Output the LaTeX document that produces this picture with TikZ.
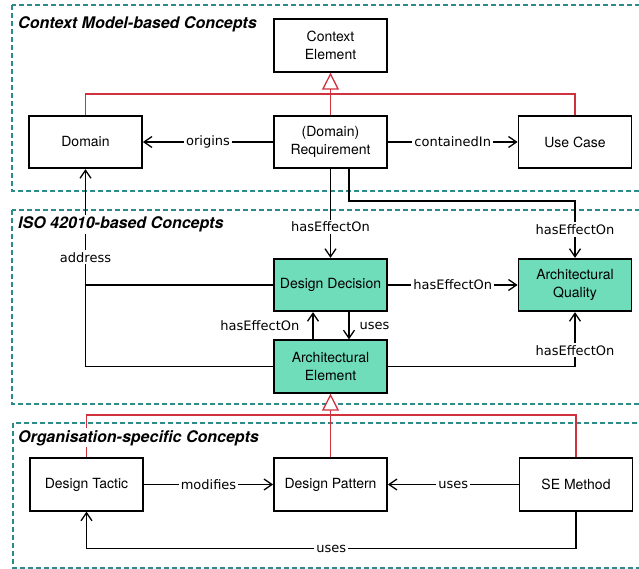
\documentclass[tikz,border=0pt]{standalone}
\usepackage{fontspec}
\setmainfont{TeX Gyre Heros}
\newfontfamily\lblfont{DejaVu Sans}
\usetikzlibrary{arrows.meta}

\definecolor{areateal}{HTML}{2E8B8B}
\definecolor{conceptgreen}{HTML}{6FDCBA}
\definecolor{genred}{HTML}{D0313D}

\tikzset{
  concept/.style={draw, line width=1.8pt, minimum width=113pt, minimum height=52.5pt,
    align=center, inner sep=2pt, font=\fontsize{14}{17.5}\selectfont},
  isoconcept/.style={concept, fill=conceptgreen},
  lbl/.style={fill=white, inner sep=2pt, font=\lblfont\fontsize{13}{15}\selectfont},
  assoc/.style={line width=1.3pt, -{Straight Barb[length=8pt,width=11pt]}},
  gen/.style={genred, line width=1.3pt},
  gentip/.style={gen, -{Triangle[fill=white, length=17pt, width=17pt]}},
  area/.style={areateal, line width=1.3pt, dash pattern=on 5pt off 3pt},
  areatitle/.style={anchor=base west, fill=white, inner sep=2pt,
    font=\fontsize{16}{19}\bfseries\itshape\selectfont}
}

\begin{document}
\begin{tikzpicture}[x=1pt,y=-1pt]
        \useasboundingbox (0,0) rectangle (639,569);
        \clip (0,0) rectangle (639,569);

        % Areas
        \draw[area] (12,5) rectangle (660,191);
        \draw[area] (12,210) rectangle (660,404);
        \draw[area] (13,423) rectangle (660,568);

        % Context model
        \node[concept] (ce) at (330.5,45.5) {Context\\Element};
        \node[concept] (dom) at (85.5,142) {Domain};
        \node[concept] (req) at (330.5,142) {(Domain)\\Requirement};
        \node[concept] (uc) at (575,142) {Use Case};

        % ISO 42010
        \node[isoconcept] (dd) at (330.5,285) {Design Decision};
        \node[isoconcept] (aq) at (575,285) {Architectural\\Quality};
        \node[isoconcept] (ae) at (330.5,366.5) {Architectural\\Element};

        % Organisation
        \node[concept] (dt) at (86.5,484.5) {Design Tactic};
        \node[concept] (dp) at (330.5,484.5) {Design Pattern};
        \node[concept] (sem) at (576,484.5) {SE Method};

        % Generalisations
        \coordinate (ctxjoin) at (330.5,94);
        \coordinate (orgjoin) at (330.5,415);
        \draw[gen] (dom.north) |- (ctxjoin) -| (uc.north);
        \draw[gentip] (req.north) -- (ce.south);
        \draw[gen] (dt.north) |- (orgjoin) -| (sem.north);
        \draw[gentip] (dp.north) -- (ae.south);

        % Associations
        \draw[assoc] (req) -- node[lbl] {origins} (dom);
        \draw[assoc] (req) -- node[lbl] {containedIn} (uc);
        \draw[assoc] (req.south) -- node[lbl, pos=0.65] {hasEffectOn} (dd.north);
        \draw[assoc] ([xshift=18.5pt]req.south) -- ++(0,32) -| node[lbl, pos=0.75] {hasEffectOn} (aq.north);
        \draw[assoc] (dd) -- node[lbl] {hasEffectOn} (aq);
        \draw[assoc] ([xshift=-17.5pt]ae.north) -- node[lbl, left=11pt] {hasEffectOn} ([xshift=-17.5pt]dd.south);
        \draw[assoc] ([xshift=18.5pt]dd.south) -- node[lbl, right=8pt] {uses} ([xshift=18.5pt]ae.north);
        \draw[assoc] (ae.east) -| node[lbl, pos=0.65] {hasEffectOn} (aq.south);
        \draw[line width=1.3pt] (ae.west) -| (dd.west -| dom.south);
        \draw[assoc] (dd.west) -| node[lbl, pos=0.62] {address} (dom.south);
        \draw[assoc] (dt) -- node[lbl] {modifies} (dp);
        \draw[assoc] (sem) -- node[lbl] {uses} (dp);
        \draw[assoc] (sem.south) -- ++(0,37) -| node[lbl, pos=0.25] {uses} (dt.south);

        % Area titles
        \node[areatitle] (ctxtitle) at (16,28.5) {Context Model-based Concepts};
        \node[areatitle] (isotitle) at (16,229) {ISO 42010-based Concepts};
        \node[areatitle] (orgtitle) at (16,442) {Organisation-specific Concepts};

    \end{tikzpicture}
\end{document}
